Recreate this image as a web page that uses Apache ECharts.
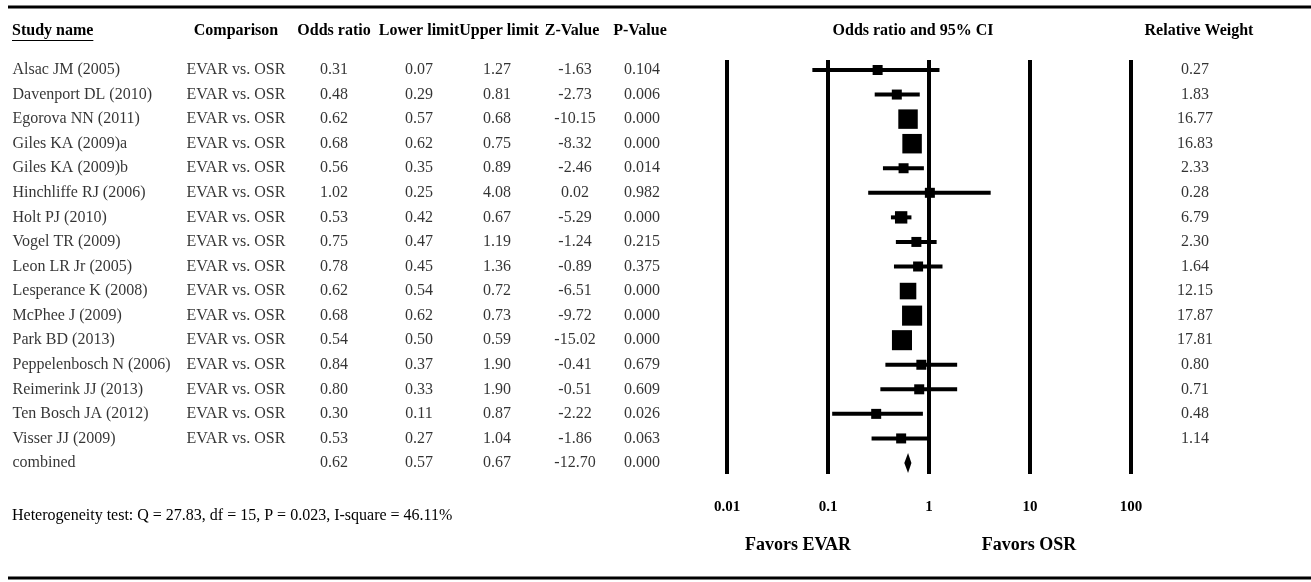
<!DOCTYPE html>
<html><head><meta charset="utf-8">
<script src="https://cdn.jsdelivr.net/npm/echarts@6/dist/echarts.min.js"></script>
<style>html,body{margin:0;padding:0;background:#fff}#c{width:1311px;height:582px}</style>
</head><body><div id="c"></div>
<script>
// ---------- data ----------
const studyNames = ['Alsac JM (2005)','Davenport DL (2010)','Egorova NN (2011)','Giles KA (2009)a','Giles KA (2009)b','Hinchliffe RJ (2006)','Holt PJ (2010)','Vogel TR (2009)','Leon LR Jr (2005)','Lesperance K (2008)','McPhee J (2009)','Park BD (2013)','Peppelenbosch N (2006)','Reimerink JJ (2013)','Ten Bosch JA (2012)','Visser JJ (2009)','combined'];
const comparisons = ['EVAR vs. OSR','EVAR vs. OSR','EVAR vs. OSR','EVAR vs. OSR','EVAR vs. OSR','EVAR vs. OSR','EVAR vs. OSR','EVAR vs. OSR','EVAR vs. OSR','EVAR vs. OSR','EVAR vs. OSR','EVAR vs. OSR','EVAR vs. OSR','EVAR vs. OSR','EVAR vs. OSR','EVAR vs. OSR',''];
const oddsRatios = [0.31,0.48,0.62,0.68,0.56,1.02,0.53,0.75,0.78,0.62,0.68,0.54,0.84,0.80,0.30,0.53,0.62];
const lowerLimits = [0.07,0.29,0.57,0.62,0.35,0.25,0.42,0.47,0.45,0.54,0.62,0.50,0.37,0.33,0.11,0.27,0.57];
const upperLimits = [1.27,0.81,0.68,0.75,0.89,4.08,0.67,1.19,1.36,0.72,0.73,0.59,1.90,1.90,0.87,1.04,0.67];
const zValues = [-1.63,-2.73,-10.15,-8.32,-2.46,0.02,-5.29,-1.24,-0.89,-6.51,-9.72,-15.02,-0.41,-0.51,-2.22,-1.86,-12.70];
const pValues = [0.104,0.006,0.000,0.000,0.014,0.982,0.000,0.215,0.375,0.000,0.000,0.000,0.679,0.609,0.026,0.063,0.000];
const relativeWeights = [0.27,1.83,16.77,16.83,2.33,0.28,6.79,2.30,1.64,12.15,17.87,17.81,0.80,0.71,0.48,1.14];
const tickLabels = ['0.01','0.1','1','10','100'];
const headers = ['Study name','Comparison','Odds ratio','Lower limit','Upper limit','Z-Value','P-Value','Odds ratio and 95% CI','Relative Weight'];
const heterogeneityText = 'Heterogeneity test: Q = 27.83, df = 15, P = 0.023, I-square = 46.11%';
const favorLabels = ['Favors EVAR','Favors OSR'];

// ---------- layout ----------
const FONT = '"Liberation Serif","Times New Roman",serif';
const ROW_MIN = -0.407, ROW_MAX = 16.448;
const GRID_TOP = 60, GRID_H = 414;
const colX = {name:12, comp:236, or:334, lo:419, hi:497, z:575, p:642, w:1195};
const headerX = [12, 236, 334, 419, 499, 572, 640, 913, 1199];
const HEADER_Y = 31;

const chart = echarts.init(document.getElementById('c'), null, {renderer:'canvas'});

function textCol(x, texts, align) {
  return {
    type:'scatter', xAxisIndex:1, yAxisIndex:1, silent:true, animation:false,
    symbolSize:1, itemStyle:{color:'rgba(0,0,0,0)'}, clip:false,
    data: texts.map((t,i)=>({value:[x, i], name:t})),
    label:{show:true, position: align==='left' ? 'right' : 'inside', distance:0,
      formatter:p=>p.name, color:'#000', fontFamily:FONT, fontSize:16}
  };
}

const forestData = oddsRatios.map((v,i)=>[v, i, lowerLimits[i], upperLimits[i], i < relativeWeights.length ? relativeWeights[i] : -1]);

const mctx = document.createElement('canvas').getContext('2d');
mctx.font = 'bold 16px ' + FONT;
const studyHeadW = mctx.measureText(headers[0]).width;

const graphics = [
  {type:'line', shape:{x1:8, y1:7, x2:1311, y2:7}, style:{stroke:'#000', lineWidth:3}},
  {type:'line', shape:{x1:8, y1:578, x2:1311, y2:578}, style:{stroke:'#000', lineWidth:3}},
  {type:'line', shape:{x1:headerX[0], y1:40.5, x2:headerX[0]+studyHeadW, y2:40.5}, style:{stroke:'#000', lineWidth:1}},
  {type:'text', x:12, y:516, style:{text:heterogeneityText, font:'16px '+FONT, fill:'#000', textVerticalAlign:'middle'}},
  {type:'text', x:798, y:545, style:{text:favorLabels[0], font:'bold 18px '+FONT, fill:'#000', textAlign:'center', textVerticalAlign:'middle'}},
  {type:'text', x:1029, y:545, style:{text:favorLabels[1], font:'bold 18px '+FONT, fill:'#000', textAlign:'center', textVerticalAlign:'middle'}}
];
headers.forEach((h,k)=>{
  graphics.push({type:'text', x:headerX[k], y:HEADER_Y,
    style:{text:h, font:'bold 16px '+FONT, fill:'#000', textAlign: k===0 ? 'left' : 'center', textVerticalAlign:'middle'}});
});

chart.setOption({
  animation:false,
  backgroundColor:'#fff',
  grid:[
    {left:727, width:404, top:GRID_TOP, height:GRID_H},
    {left:0, width:1311, top:GRID_TOP, height:GRID_H}
  ],
  xAxis:[
    {type:'log', logBase:10, min:0.01, max:100, gridIndex:0,
     axisLine:{show:false}, axisTick:{show:false},
     splitLine:{show:true, showMinLine:true, showMaxLine:true, lineStyle:{color:'#000', width:4}},
     axisLabel:{margin:26, color:'#000', fontFamily:FONT, fontWeight:'bold', fontSize:15,
       formatter:(v)=>{ const k = Math.round(Math.log10(v)) + 2; return tickLabels[k] !== undefined ? tickLabels[k] : ''; }}},
    {type:'value', min:0, max:1311, gridIndex:1, show:false}
  ],
  yAxis:[
    {type:'value', inverse:true, min:ROW_MIN, max:ROW_MAX, gridIndex:0, show:false},
    {type:'value', inverse:true, min:ROW_MIN, max:ROW_MAX, gridIndex:1, show:false}
  ],
  graphic: graphics,
  series:[
    {
      type:'custom', xAxisIndex:0, yAxisIndex:0, silent:true, clip:false,
      data: forestData,
      renderItem:(params, api)=>{
        const i = api.value(1);
        const c = api.coord([api.value(0), i]);
        const l = api.coord([api.value(2), i]);
        const h = api.coord([api.value(3), i]);
        const w = api.value(4);
        if (w < 0) {
          return {type:'polygon', shape:{points:[[l[0],c[1]],[c[0],c[1]-10],[h[0],c[1]],[c[0],c[1]+10]]},
            style:{fill:'#000'}};
        }
        const s = Math.max(10, 4.75*Math.sqrt(w));
        return {type:'group', children:[
          {type:'line', shape:{x1:l[0], y1:c[1], x2:h[0], y2:c[1]}, style:{stroke:'#000', lineWidth:4}},
          {type:'rect', shape:{x:c[0]-s/2, y:c[1]-s/2, width:s, height:s}, style:{fill:'#000'}}
        ]};
      }
    },
    textCol(colX.name, studyNames, 'left'),
    textCol(colX.comp, comparisons, 'center'),
    textCol(colX.or, oddsRatios.map(v=>v.toFixed(2)), 'center'),
    textCol(colX.lo, lowerLimits.map(v=>v.toFixed(2)), 'center'),
    textCol(colX.hi, upperLimits.map(v=>v.toFixed(2)), 'center'),
    textCol(colX.z, zValues.map(v=>v.toFixed(2)), 'center'),
    textCol(colX.p, pValues.map(v=>v.toFixed(3)), 'center'),
    textCol(colX.w, relativeWeights.map(v=>v.toFixed(2)), 'center')
  ]
});
</script>
</body></html>
